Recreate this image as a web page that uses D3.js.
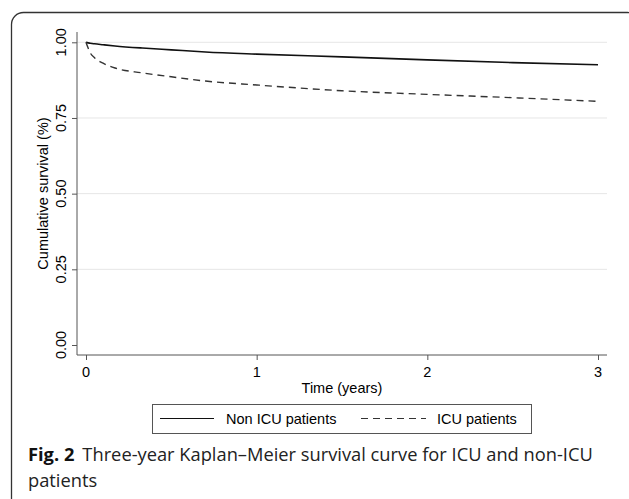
<!DOCTYPE html>
<html>
<head>
<meta charset="utf-8">
<script src="https://cdn.jsdelivr.net/npm/d3@7"></script>
<style>
  body { margin: 0; background: #fff; }
  svg { display: block; }
  .axis-text { font-family: "Liberation Sans", Arial, sans-serif; font-size: 14.5px; fill: #000; }
  .caption { font-family: "Open Sans", "Noto Sans", sans-serif; font-size: 18.3px; fill: #222; }
</style>
</head>
<body>
<script>
// Survival estimates (time in years)
const times = [0, 0.012, 0.025, 0.05, 0.1, 0.17, 0.33, 0.5, 0.7, 1.0, 1.5, 2.0, 2.5, 3.0];
const nonIcu = [1.000, 0.998, 0.997, 0.995, 0.992, 0.988, 0.981, 0.975, 0.968, 0.961, 0.952, 0.942, 0.933, 0.926];
const icu = [1.000, 0.982, 0.965, 0.949, 0.931, 0.915, 0.899, 0.886, 0.872, 0.859, 0.840, 0.828, 0.817, 0.805];

const xTicks = [0, 1, 2, 3];
const yTicks = [0, 0.25, 0.5, 0.75, 1];
const gridTicks = [0.25, 0.5, 0.75, 1];
const seriesNames = ["Non ICU patients", "ICU patients"];

const W = 629, H = 499;
const plot = { left: 77, right: 607, top: 32, bottom: 355 };

const x = d3.scaleLinear().domain([0, 3]).range([86, 598]);
const y = d3.scaleLinear().domain([0, 1]).range([345, 42.3]);

const svg = d3.select("body").append("svg")
  .attr("width", W)
  .attr("height", H);

// Rounded frame (runs off the right and bottom edges)
svg.append("rect")
  .attr("x", 11.5).attr("y", 12.5)
  .attr("width", 628).attr("height", 498)
  .attr("rx", 12).attr("ry", 12)
  .style("fill", "none")
  .style("stroke", "#333")
  .style("stroke-width", 1.3);

// Gridlines
svg.append("g")
  .selectAll("line")
  .data(gridTicks)
  .enter()
  .append("line")
  .attr("x1", plot.left).attr("x2", plot.right)
  .attr("y1", d => y(d)).attr("y2", d => y(d))
  .style("stroke", "#e6e6e6")
  .style("stroke-width", 1);

// Y axis
const yAxis = svg.append("g")
  .attr("transform", `translate(${plot.left},0)`)
  .call(d3.axisLeft(y).tickValues(yTicks).tickFormat(d3.format(".2f")).tickSize(5).tickSizeOuter(0));
yAxis.select(".domain").remove();
yAxis.selectAll(".tick line").style("stroke", "#555");
yAxis.selectAll(".tick text").remove();
yAxis.append("line")
  .attr("y1", plot.top).attr("y2", plot.bottom)
  .style("stroke", "#555");

svg.append("g")
  .selectAll("text")
  .data(yTicks)
  .enter()
  .append("text")
  .attr("class", "axis-text")
  .attr("transform", d => `translate(66,${y(d)}) rotate(-90)`)
  .attr("text-anchor", "middle")
  .text(d3.format(".2f"));

// X axis
const xAxis = svg.append("g")
  .attr("transform", `translate(0,${plot.bottom})`)
  .call(d3.axisBottom(x).tickValues(xTicks).tickSize(5).tickSizeOuter(0).tickPadding(0));
xAxis.select(".domain").remove();
xAxis.selectAll(".tick line").style("stroke", "#555");
xAxis.selectAll(".tick text").remove();
xAxis.append("line")
  .attr("x1", plot.left).attr("x2", plot.right)
  .style("stroke", "#555");

svg.append("g")
  .selectAll("text")
  .data(xTicks)
  .enter()
  .append("text")
  .attr("class", "axis-text")
  .attr("x", d => x(d))
  .attr("y", 377)
  .attr("text-anchor", "middle")
  .text(d => d);

// Axis titles
svg.append("text")
  .attr("class", "axis-text")
  .attr("x", (plot.left + plot.right) / 2)
  .attr("y", 393)
  .attr("text-anchor", "middle")
  .text("Time (years)");

svg.append("text")
  .attr("class", "axis-text")
  .attr("transform", `translate(48,${(plot.top + plot.bottom) / 2}) rotate(-90)`)
  .attr("text-anchor", "middle")
  .text("Cumulative survival (%)");

// Survival curves
const line = d3.line()
  .x((d, i) => x(times[i]))
  .y(d => y(d))
  .curve(d3.curveMonotoneX);

svg.append("path")
  .datum(nonIcu)
  .attr("d", line)
  .style("fill", "none")
  .style("stroke", "#111")
  .style("stroke-width", 1.6);

svg.append("path")
  .datum(icu)
  .attr("d", line)
  .style("fill", "none")
  .style("stroke", "#333")
  .style("stroke-width", 1.4)
  .style("stroke-dasharray", "7,5");

// Legend
const legend = svg.append("g");
legend.append("rect")
  .attr("x", 152.5).attr("y", 404.5)
  .attr("width", 379).attr("height", 29)
  .style("fill", "#fff")
  .style("stroke", "#555");

const legendItems = [
  { name: seriesNames[0], x1: 160, x2: 214, tx: 226, dash: null, color: "#111" },
  { name: seriesNames[1], x1: 361, x2: 426, tx: 437, dash: "7,5", color: "#333" }
];
legendItems.forEach(d => {
  legend.append("line")
    .attr("x1", d.x1).attr("x2", d.x2)
    .attr("y1", 418.5).attr("y2", 418.5)
    .style("stroke", d.color)
    .style("stroke-width", 1.1)
    .style("stroke-dasharray", d.dash);
  legend.append("text")
    .attr("class", "axis-text")
    .attr("x", d.tx)
    .attr("y", 423.5)
    .text(d.name);
});

// Caption
const cap = svg.append("text")
  .attr("class", "caption")
  .attr("x", 28)
  .attr("y", 461);
cap.append("tspan").style("font-weight", "bold").style("fill", "#111").text("Fig. 2");
cap.append("tspan").attr("dx", 8).text("Three-year Kaplan\u2013Meier survival curve for ICU and non-ICU");

svg.append("text")
  .attr("class", "caption")
  .attr("x", 28)
  .attr("y", 487)
  .text("patients");
</script>
</body>
</html>
